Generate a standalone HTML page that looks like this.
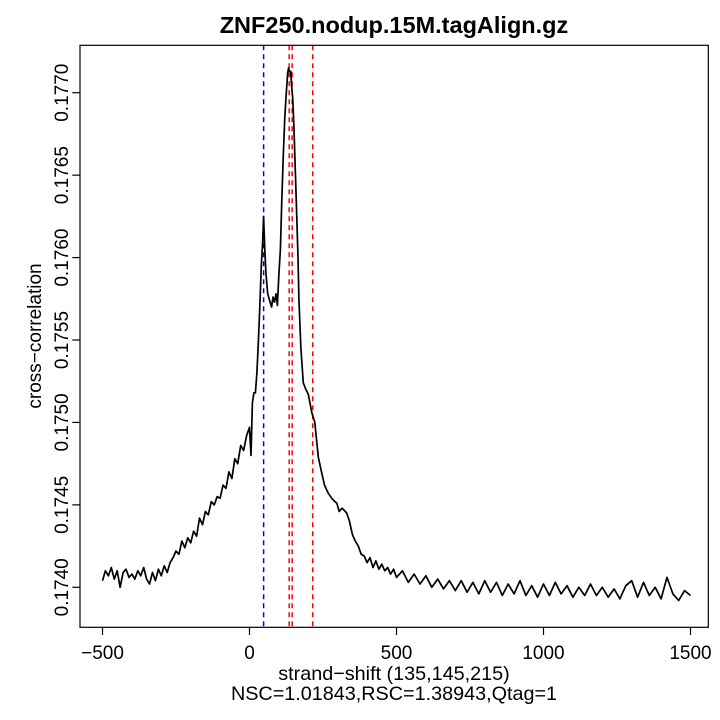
<!DOCTYPE html>
<html><head><meta charset="utf-8"><style>
html,body{margin:0;padding:0;background:#fff;}
svg{display:block;font-family:"Liberation Sans",Arial,sans-serif;}
</style></head><body>
<svg id="chart" width="720" height="720" xmlns="http://www.w3.org/2000/svg">
<rect width="720" height="720" fill="#fff"/>
<text x="394" y="33" text-anchor="middle" font-size="23.5" font-weight="bold">ZNF250.nodup.15M.tagAlign.gz</text>
<g id="axes"></g>
<g id="vlines"></g>
<path id="series" fill="none" stroke="#000" stroke-width="1.7" stroke-linejoin="round"/>
<rect x="80" y="45.3" width="628.3" height="582" fill="none" stroke="#000" stroke-width="1.2"/>
<text x="394" y="680" text-anchor="middle" font-size="19.8">strand−shift (135,145,215)</text>
<text x="394" y="700" text-anchor="middle" font-size="19.8">NSC=1.01843,RSC=1.38943,Qtag=1</text>
<text transform="translate(41,336) rotate(-90)" text-anchor="middle" font-size="19">cross−correlation</text>
</svg>
<script>
const shifts = [-500,-490,-480,-470,-460,-450,-440,-430,-420,-410,-400,-390,-380,-370,-360,-350,-340,-330,-320,-310,-300,-290,-280,-270,-260,-250,-240,-230,-220,-210,-200,-190,-180,-170,-160,-150,-140,-130,-120,-110,-100,-90,-80,-70,-60,-50,-40,-30,-20,-10,0,5,10,15,20,25,30,35,40,45,48,52,56,62,70,75,80,85,90,95,100,105,110,115,120,125,130,133,136,140,143,147,151,155,160,165,168,175,183,192,200,212,222,234,245,255,268,280,290,297,305,315,331,340,350,360,370,380,390,400,410,420,430,440,450,460,470,480,490,500,520,540,560,580,600,620,640,660,680,700,720,740,760,780,800,820,840,860,880,900,920,940,960,980,1000,1020,1040,1060,1080,1100,1120,1140,1160,1180,1200,1220,1240,1260,1280,1300,1320,1340,1360,1380,1400,1420,1440,1460,1480,1500];
const corr = [.17404,.17410,.17407,.17412,.17405,.17410,.17400,.17409,.17411,.17406,.17408,.17405,.17410,.17407,.17412,.17405,.17402,.17409,.17404,.17411,.17407,.17413,.17409,.17415,.17418,.17422,.17420,.17428,.17424,.17430,.17427,.17434,.17431,.17442,.17438,.17446,.17444,.17452,.17450,.17455,.17454,.17462,.17460,.17470,.17466,.17478,.17475,.17486,.17483,.17492,.17497,.17480,.17512,.17518,.17518,.17530,.17548,.17570,.17595,.17610,.17625,.17605,.17590,.17578,.17573,.17570,.17576,.17573,.17578,.17571,.17590,.17605,.17635,.17662,.17685,.17700,.17712,.17715,.17713,.17713,.17705,.17697,.17680,.17657,.17630,.17600,.17575,.17545,.17524,.17520,.17517,.17506,.17500,.17479,.17470,.17462,.17457,.17454,.17452,.17451,.17446,.17448,.17445,.17440,.17432,.17428,.17425,.17420,.17419,.17415,.17418,.17412,.17416,.17411,.17414,.17410,.17412,.17408,.17411,.17406,.17410,.17403,.17408,.17402,.17407,.17400,.17405,.17399,.17404,.17398,.17404,.17397,.17403,.17396,.17404,.17397,.17403,.17395,.17402,.17396,.17404,.17395,.17401,.17394,.17402,.17395,.17403,.17396,.17401,.17394,.17400,.17395,.17402,.17395,.17400,.17394,.17399,.17393,.17401,.17404,.17394,.17403,.17395,.17400,.17393,.17406,.17396,.17392,.17398,.17395];
const xTicks = [-500,0,500,1000,1500];
const yTicks = [0.1740,0.1745,0.1750,0.1755,0.1760,0.1765,0.1770];
const yTickLabels = ["0.1740","0.1745","0.1750","0.1755","0.1760","0.1765","0.1770"];
const markerShifts = [48,135,145,215];
const markerColors = ["#0000ff","#ff0000","#ff0000","#ff0000"];

const NS="http://www.w3.org/2000/svg";
function xs(s){return 249.5 + s*0.294;}
function ys(v){return 587.3 - (v-0.1740)/0.0005*82.43;}
const axes=document.getElementById('axes');
function mk(tag,attrs,parent){const e=document.createElementNS(NS,tag);for(const k in attrs)e.setAttribute(k,attrs[k]);parent.appendChild(e);return e;}
xTicks.forEach(t=>{
  const l=mk('line',{x1:xs(t),x2:xs(t),y1:627.3,y2:635,stroke:'#000','stroke-width':1.2},axes);
  
  
  const tx=mk('text',{x:xs(t),y:659,'text-anchor':'middle','font-size':19},axes);
  tx.textContent=t===-500?'−500':String(t);
  
  
});
yTicks.forEach((t,i)=>{
  const y=ys(t);
  const l=mk('line',{x1:72.3,x2:80,y1:y,y2:y,stroke:'#000','stroke-width':1.2},axes);
  
  
  const tx=mk('text',{transform:`translate(68,${y}) rotate(-90)`,'text-anchor':'middle','font-size':19},axes);
  tx.textContent=yTickLabels[i];
  
  
});
const vl=document.getElementById('vlines');
markerShifts.forEach((s,i)=>{
  const l=mk('line',{x1:xs(s),x2:xs(s),y1:45.3,y2:627.3,stroke:markerColors[i],'stroke-width':1.5,'stroke-dasharray':'5,4'},vl);
  
  
});
let d='';
shifts.forEach((s,i)=>{d+=(i?'L':'M')+xs(s).toFixed(1)+','+ys(corr[i]).toFixed(1);});
document.getElementById('series').setAttribute('d',d);
</script>
</body></html>
